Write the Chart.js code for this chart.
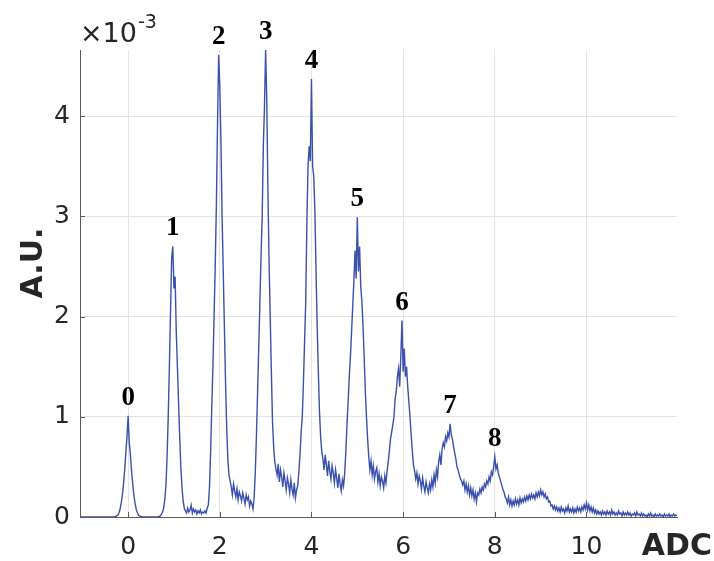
<!DOCTYPE html>
<html>
<head>
<meta charset="utf-8">
<title>ADC spectrum</title>
<script src="https://cdn.jsdelivr.net/npm/chart.js@4/dist/chart.umd.min.js"></script>
<style>
  html, body { margin: 0; padding: 0; background: #ffffff; }
  canvas { display: block; }
</style>
</head>
<body>
<canvas id="spectrum" width="714" height="561"></canvas>
<script>
// Binning of the ADC axis
const ADC_START = -1.05;
const ADC_STEP = 0.025;

// Normalised counts per bin, in units of 1e-3 (A.U.)
const counts = [
  // -1.05 .. -0.025
  0,0,0,0,0,0,0,0,0,0, 0,0,0,0,0,0,0,0,0,0, 0,0,0,0,0,0,0,0,0,0, 0,
  0.005,0.01,0.02,0.04,0.08,0.14,0.22,0.33,0.47,0.64,0.80,
  // 0.0 .. 0.975
  1.01,0.74,0.62,0.46,0.33,0.22,0.14,0.08,0.045,0.02,0.01,0.005,0.002,
  0,0,0,0,0,0,0,0,0,0,0,0,0,
  0.002,0.005,0.01,0.025,0.05,0.09,0.17,0.32,0.60,1.00,1.50,2.05,2.58,2.70,
  // 1.0 .. 1.975
  2.28,2.40,1.85,1.50,1.15,0.80,0.50,0.30,0.16,0.09,
  0.06,0.04,0.09,0.05,0.07,0.12,0.04,0.08,0.05,0.07,0.03,0.06,0.04,0.07,0.03,0.05,0.04,0.06,0.04,0.09,
  0.12,0.30,0.65,1.10,1.50,2.00,2.50,3.10,3.90,4.61,
  // 2.0 .. 2.975
  4.30,3.75,3.00,2.45,1.90,1.35,0.90,0.58,0.42,0.36,
  0.30,0.22,0.33,0.26,0.20,0.28,0.17,0.25,0.21,0.16,0.24,0.19,0.13,0.22,0.17,0.20,0.11,0.16,0.13,0.08,
  0.20,0.45,0.82,1.25,1.70,2.15,2.60,3.00,3.70,4.10,
  // 3.0 .. 3.975
  4.66,4.15,3.25,2.55,2.00,1.45,0.95,0.70,0.55,0.48,
  0.42,0.53,0.35,0.47,0.40,0.30,0.44,0.36,0.27,0.39,0.33,0.24,0.37,0.28,0.22,0.34,0.19,0.27,0.31,0.45,
  0.62,0.85,1.00,1.35,1.75,2.15,2.95,3.50,3.70,3.55,
  // 4.0 .. 4.975
  4.37,3.50,3.40,3.05,2.45,1.90,1.45,1.05,0.80,0.65,
  0.58,0.47,0.62,0.52,0.41,0.56,0.46,0.38,0.51,0.44,0.34,0.47,0.39,0.29,0.43,0.33,0.26,0.37,0.31,0.44,
  0.65,0.92,1.15,1.40,1.60,1.85,2.10,2.35,2.66,2.38,
  // 5.0 .. 5.975
  2.99,2.45,2.70,2.30,2.15,1.90,1.60,1.25,1.00,0.78,
  0.60,0.47,0.56,0.42,0.51,0.38,0.45,0.49,0.35,0.43,0.31,0.40,0.36,0.29,0.41,0.34,0.46,0.55,0.66,0.78,
  0.85,0.92,1.00,1.18,1.25,1.40,1.48,1.30,1.62,1.96,
  // 6.0 .. 6.975
  1.45,1.68,1.40,1.50,1.30,1.15,1.00,0.82,0.66,0.52,
  0.46,0.38,0.44,0.33,0.41,0.36,0.28,0.39,0.31,0.25,0.35,0.29,0.24,0.33,0.27,0.37,0.30,0.42,0.34,0.47,
  0.40,0.55,0.62,0.52,0.68,0.74,0.70,0.80,0.76,0.84,
  // 7.0 .. 7.975
  0.80,0.93,0.82,0.78,0.70,0.64,0.58,0.50,0.47,0.42,
  0.38,0.36,0.32,0.36,0.27,0.33,0.25,0.31,0.22,0.29,0.21,0.27,0.18,0.24,0.15,0.24,0.22,0.28,0.24,0.30,
  0.27,0.33,0.30,0.36,0.33,0.40,0.36,0.45,0.42,0.50,
  // 8.0 .. 8.975
  0.60,0.48,0.52,0.44,0.40,0.36,0.32,0.28,0.25,0.20,
  0.18,0.14,0.20,0.12,0.17,0.11,0.16,0.12,0.18,0.13,0.17,0.12,0.19,0.14,0.18,0.15,0.20,0.16,0.21,0.17,
  0.22,0.18,0.23,0.19,0.22,0.18,0.24,0.20,0.25,0.21,
  // 9.0 .. 9.975
  0.27,0.22,0.25,0.20,0.23,0.18,0.20,0.15,0.16,0.11,
  0.12,0.08,0.11,0.07,0.10,0.06,0.09,0.05,0.10,0.06,0.08,0.04,0.09,0.06,0.11,0.05,0.08,0.05,0.09,0.04,
  0.08,0.05,0.10,0.06,0.09,0.05,0.10,0.07,0.12,0.08,
  // 10.0 .. 10.975
  0.14,0.07,0.12,0.06,0.10,0.05,0.09,0.04,0.07,0.03,0.06,0.03,0.05,0.02,0.06,0.03,0.05,0.02,0.06,0.03,
  0.05,0.02,0.07,0.03,0.05,0.02,0.04,0.02,0.06,0.03,0.04,0.01,0.05,0.02,0.04,0.02,0.05,0.02,0.04,0.01,
  // 11.0 .. 11.975
  0.03,0.02,0.04,0.01,0.05,0.02,0.03,0.01,0.04,0.01,0.03,0.01,0.02,0.00,0.03,0.01,0.04,0.01,0.02,0.00,
  0.03,0.01,0.02,0.01,0.03,0.01,0.02,0.00,0.03,0.01,0.02,0.01,0.03,0.00,0.02,0.01,0.03,0.01,0.02,0.01
];

// Axis ticks and the common exponent of the A.U. axis
const xTickValues = [0, 2, 4, 6, 8, 10];
const yTickValues = [0, 1, 2, 3, 4];
const yExponent = '-3';

// Photo-electron peaks and their labels
const peakAdc = [0, 0.975, 1.975, 3, 4, 5, 5.975, 7.025, 8];
const peakNames = ['0', '1', '2', '3', '4', '5', '6', '7', '8'];

const points = counts.map((v, i) => ({ x: ADC_START + i * ADC_STEP, y: v }));
const xMax = ADC_START + (counts.length - 1) * ADC_STEP;
const yMax = Math.max(...counts);

const INK = '#262626';
const AXIS = '#5a5a5a';
const GRID = '#e4e4e4';
const SANS = '"DejaVu Sans", "Liberation Sans", Arial, sans-serif';

const decorations = {
  id: 'decorations',
  afterDraw(chart) {
    const { ctx, chartArea: a, scales: { x, y } } = chart;
    ctx.save();

    // inward tick marks
    ctx.strokeStyle = AXIS;
    ctx.lineWidth = 1;
    ctx.beginPath();
    xTickValues.forEach(v => {
      const px = Math.round(x.getPixelForValue(v)) + 0.5;
      ctx.moveTo(px, a.bottom);
      ctx.lineTo(px, a.bottom - 5);
    });
    yTickValues.forEach(v => {
      const py = Math.round(y.getPixelForValue(v)) + 0.5;
      ctx.moveTo(a.left, py);
      ctx.lineTo(a.left + 5, py);
    });
    ctx.stroke();

    // peak labels
    ctx.fillStyle = '#000000';
    ctx.font = 'bold 27px "Liberation Serif", "Times New Roman", serif';
    ctx.textAlign = 'center';
    ctx.textBaseline = 'alphabetic';
    peakAdc.forEach((adc, k) => {
      const idx = Math.round((adc - ADC_START) / ADC_STEP);
      const px = x.getPixelForValue(adc);
      const py = y.getPixelForValue(counts[idx]);
      ctx.fillText(peakNames[k], px, py - 11);
    });

    // exponent of the vertical axis
    ctx.fillStyle = INK;
    ctx.textAlign = 'left';
    ctx.font = '27px ' + SANS;
    ctx.fillText('\u00d710', a.left, 42);
    const w = ctx.measureText('\u00d710').width;
    ctx.font = '19px ' + SANS;
    ctx.fillText(yExponent, a.left + w + 1, 28);

    // axis titles
    ctx.font = 'bold 30px ' + SANS;
    ctx.textAlign = 'right';
    ctx.fillText('ADC', 712, 555);

    ctx.translate(42, 263);
    ctx.rotate(-Math.PI / 2);
    ctx.textAlign = 'center';
    ctx.fillText('A.U.', 0, 0);

    ctx.restore();
  }
};

new Chart(document.getElementById('spectrum'), {
  type: 'line',
  data: {
    datasets: [{
      data: points,
      borderColor: '#3a50ad',
      borderWidth: 1.4,
      pointRadius: 0,
      tension: 0,
      fill: false
    }]
  },
  options: {
    responsive: false,
    devicePixelRatio: 1,
    animation: false,
    events: [],
    layout: { padding: { top: 50, right: 37, left: 0, bottom: 0 } },
    plugins: { legend: { display: false }, tooltip: { enabled: false } },
    scales: {
      x: {
        type: 'linear',
        min: ADC_START,
        max: xMax,
        afterBuildTicks: s => { s.ticks = xTickValues.map(v => ({ value: v })); },
        afterFit: s => { s.height = 44; },
        grid: { color: GRID, lineWidth: 1, drawTicks: false },
        border: { display: true, color: AXIS, width: 1 },
        ticks: {
          color: INK,
          font: { family: SANS, size: 25 },
          padding: 15,
          maxRotation: 0,
          autoSkip: false
        }
      },
      y: {
        type: 'linear',
        min: 0,
        max: yMax,
        afterBuildTicks: s => { s.ticks = yTickValues.map(v => ({ value: v })); },
        afterFit: s => { s.width = 80; },
        grid: { color: GRID, lineWidth: 1, drawTicks: false },
        border: { display: true, color: AXIS, width: 1 },
        ticks: {
          color: INK,
          font: { family: SANS, size: 25 },
          padding: 10,
          autoSkip: false
        }
      }
    }
  },
  plugins: [decorations]
});
</script>
</body>
</html>
